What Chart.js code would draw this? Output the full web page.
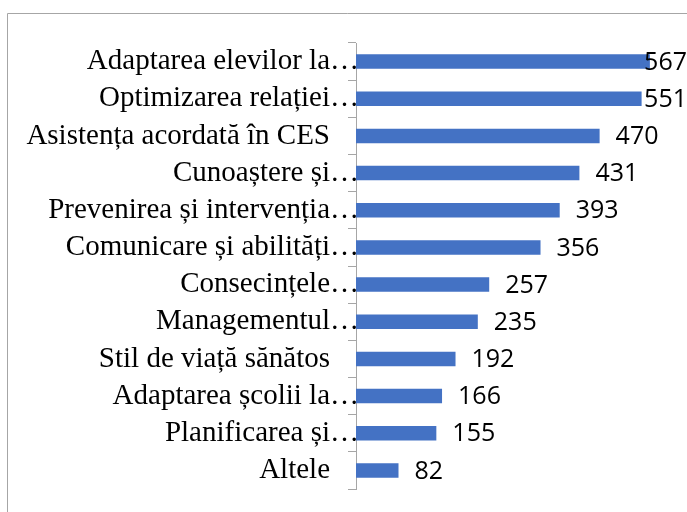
<!DOCTYPE html>
<html>
<head>
<meta charset="utf-8">
<script src="https://cdn.jsdelivr.net/npm/chart.js@4/dist/chart.umd.min.js"></script>
<style>
    html, body { margin: 0; padding: 0; background: #fff; }
    #wrap { position: relative; width: 687px; height: 512px; }
</style>
</head>
<body>
<div id="wrap"><canvas id="chart" width="687" height="512"></canvas></div>
<script>
const categories = [
    'Adaptarea elevilor la…',
    'Optimizarea relației…',
    'Asistența acordată în CES',
    'Cunoaștere și…',
    'Prevenirea și intervenția…',
    'Comunicare și abilități…',
    'Consecințele…',
    'Managementul…',
    'Stil de viață sănătos',
    'Adaptarea școlii la…',
    'Planificarea și…',
    'Altele'
]
const values = [567, 551, 470, 431, 393, 356, 257, 235, 192, 166, 155, 82]
const xMax = 600

// frame around the chart (only left and top edges show in the picture)
const framePlugin = {
    id: 'frame',
    beforeDraw(chart) {
        const ctx = chart.ctx
        ctx.save()
        ctx.strokeStyle = '#a6a6a6'
        ctx.lineWidth = 1
        ctx.beginPath()
        ctx.moveTo(7.5, chart.height)
        ctx.lineTo(7.5, 13.5)
        ctx.lineTo(chart.width, 13.5)
        ctx.stroke()
        ctx.restore()
    }
}

// value labels at the end of each bar, kept inside the canvas
const valueLabels = {
    id: 'valueLabels',
    afterDatasetsDraw(chart) {
        const ctx = chart.ctx
        const meta = chart.getDatasetMeta(0)
        ctx.save()
        ctx.font = '25px "Open Sans"'
        ctx.fillStyle = '#000'
        ctx.textBaseline = 'middle'
        ctx.textAlign = 'left'
        meta.data.forEach((bar, i) => {
            const text = String(values[i])
            const w = ctx.measureText(text).width
            let x = bar.x + 16
            if (x + w > chart.width) x = chart.width - w
            ctx.fillText(text, x, bar.y + 1)
        })
        ctx.restore()
    }
}

new Chart(document.getElementById('chart'), {
    type: 'bar',
    data: {
        labels: categories,
        datasets: [{
            data: values,
            backgroundColor: '#4472c4',
            barPercentage: 0.39,
            categoryPercentage: 1
        }]
    },
    options: {
        indexAxis: 'y',
        responsive: false,
        animation: false,
        layout: { padding: { top: 43, bottom: 23, right: 20, left: 0 } },
        plugins: {
            legend: { display: false },
            tooltip: { enabled: false }
        },
        scales: {
            x: {
                display: false,
                min: 0,
                max: xMax
            },
            y: {
                afterFit(scale) { scale.width = 356 },
                border: { display: true, color: '#a6a6a6', width: 1 },
                grid: {
                    offset: true,
                    drawOnChartArea: false,
                    drawTicks: true,
                    tickLength: 8,
                    color: '#a6a6a6'
                },
                ticks: {
                    autoSkip: false,
                    padding: -11,
                    color: '#000',
                    font: { family: '"Liberation Serif", "Times New Roman", serif', size: 29 },
                    callback(value, i) {
                        const label = categories[i]
                        return label.endsWith('…') ? label : label + '    '
                    }
                }
            }
        }
    },
    plugins: [framePlugin, valueLabels]
})
</script>
</body>
</html>
